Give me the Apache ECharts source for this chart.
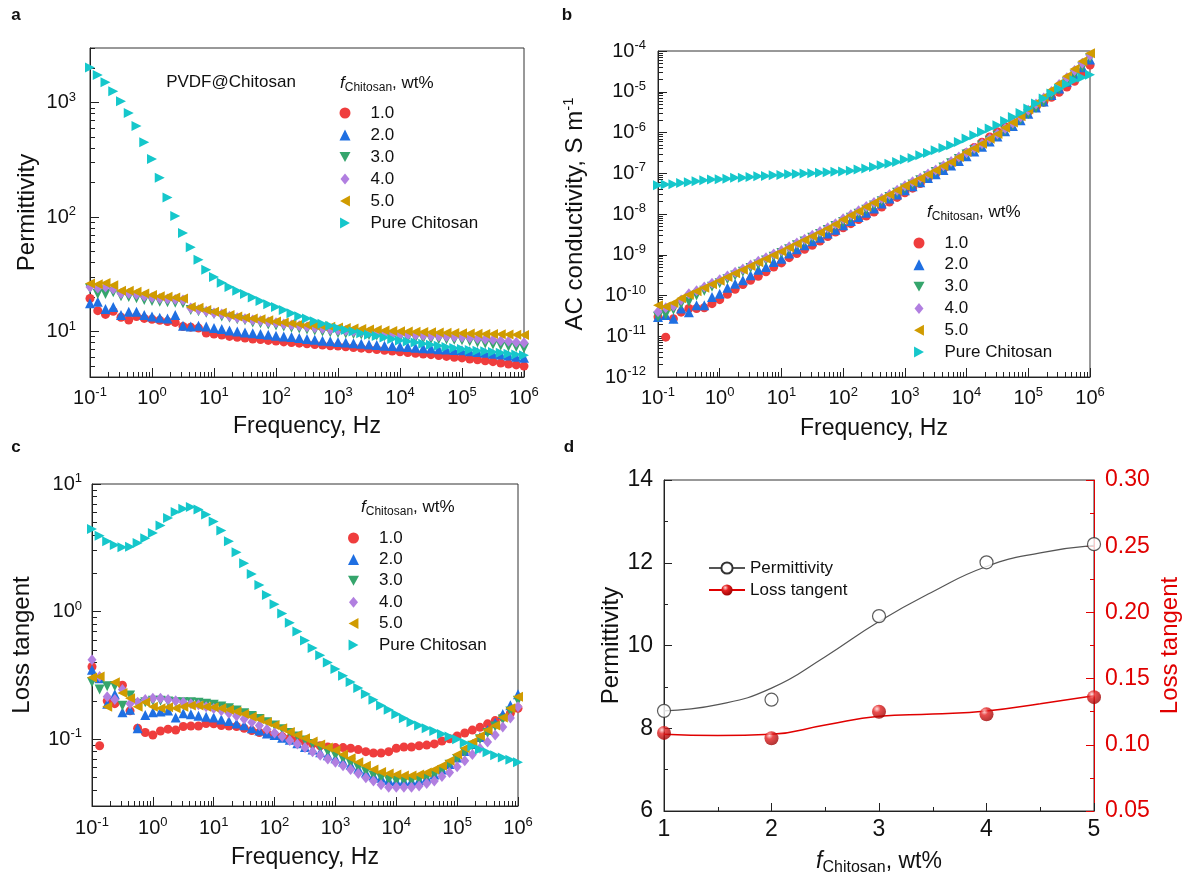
<!DOCTYPE html>
<html><head><meta charset="utf-8">
<script src="https://cdn.jsdelivr.net/npm/echarts@6.0.0/dist/echarts.min.js"></script>
<style>html,body{margin:0;padding:0;background:#fff}#c{width:1188px;height:881px}</style>
</head><body><div id="c"></div>
<script>
// ---------- DATA ----------
const freq = [0.1,0.1334,0.1778,0.2371,0.3162,0.4217,0.5623,0.7499,
  1,1.334,1.778,2.371,3.162,4.217,5.623,7.499,
  10,13.34,17.78,23.71,31.62,42.17,56.23,74.99,
  100,133.4,177.8,237.1,316.2,421.7,562.3,749.9,
  1000,1334,1778,2371,3162,4217,5623,7499,
  1e4,13340,17780,23710,31620,42170,56230,74990,
  1e5,133400,177800,237100,316200,421700,562300,749900,1e6];

const seriesNames = ['1.0','2.0','3.0','4.0','5.0','Pure Chitosan'];

// panel a: permittivity
const perm_1 = [19.4,15.2,14.1,15.0,13.3,12.6,13.5,13.0,12.8,12.5,12.2,12.0,11.05,10.9,10.7,9.7,9.5,9.3,9.05,8.9,8.75,8.6,8.5,8.35,8.25,8.1,8.0,7.9,7.8,7.7,7.6,7.5,7.45,7.35,7.25,7.15,7.05,6.95,6.85,6.75,6.65,6.55,6.45,6.35,6.27,6.15,6.05,5.95,5.87,5.75,5.65,5.55,5.45,5.3,5.2,5.1,4.98];
const perm_2 = [17.6,18.2,15.7,16.4,13.9,14.9,14.9,13.9,13.5,13.2,13.0,13.9,11.2,11.05,11.2,11.05,10.7,10.5,10.2,10.0,9.8,9.67,9.48,9.35,9.17,9.05,8.93,8.75,8.6,8.45,8.3,8.2,8.1,8.0,7.9,7.8,7.7,7.6,7.5,7.45,7.4,7.3,7.2,7.15,7.1,7.0,6.95,6.9,6.85,6.7,6.6,6.5,6.4,6.3,6.15,6.0,5.9];
const perm_3 = [23.7,21.2,21.2,22.0,20.3,20.0,19.5,18.8,18.5,18.2,18.0,17.8,17.6,15.4,15.0,14.6,14.2,13.5,13.2,12.8,12.5,12.0,11.8,11.5,11.3,11.05,10.8,10.6,10.4,10.2,10.0,9.85,9.7,9.6,9.5,9.4,9.3,9.2,9.1,9.0,8.9,8.8,8.75,8.7,8.6,8.55,8.5,8.45,8.4,8.2,8.0,7.85,7.7,7.55,7.4,7.3,7.15];
const perm_4 = [24.5,24.0,24.5,23.5,21.5,21.5,21.0,20.3,19.8,19.4,19.2,19.0,18.8,16.0,15.5,15.0,14.5,14.2,13.6,13.2,12.9,12.6,12.4,12.1,11.9,11.6,11.4,11.2,11.0,10.8,10.6,10.4,10.3,10.2,10.05,9.95,9.85,9.7,9.6,9.5,9.4,9.35,9.3,9.2,9.15,9.1,9.05,9.0,8.95,8.8,8.7,8.55,8.45,8.3,8.2,8.05,7.95];
const perm_5 = [26.2,25.9,26.5,25.4,22.7,22.7,22.2,21.5,20.8,20.3,20.1,19.8,19.4,16.4,16.1,15.4,14.9,14.6,13.9,13.5,13.2,13.0,12.8,12.5,12.2,12.0,11.8,11.6,11.4,11.25,11.1,11.0,10.85,10.7,10.6,10.5,10.4,10.3,10.2,10.1,10.05,10.0,9.95,9.9,9.85,9.8,9.75,9.7,9.67,9.6,9.55,9.5,9.48,9.45,9.4,9.35,9.3];
const perm_c = [2030,1746,1507,1259,1026,813,624,451,321,220,148,102,72.5,54.5,42.3,34.6,29.9,26.7,24.5,22.7,21.2,19.8,18.5,17.3,16.4,15.4,14.4,13.6,13.0,12.3,11.7,11.2,10.7,10.3,10.0,9.67,9.35,9.15,8.87,8.6,8.35,8.18,8.0,7.8,7.65,7.5,7.3,7.16,7.03,6.9,6.8,6.7,6.6,6.5,6.4,6.3,6.2];

// panel b: AC conductivity (S/m)
const cond_1 = [3.0e-11,9.5e-12,2.7e-11,3.9e-11,4.8e-11,4.8e-11,5.0e-11,6.3e-11,7.9e-11,1.07e-10,1.42e-10,1.85e-10,2.36e-10,2.95e-10,3.8e-10,5.0e-10,6.3e-10,8.5e-10,1.07e-9,1.36e-9,1.7e-9,2.17e-9,2.8e-9,3.6e-9,4.6e-9,5.8e-9,7.3e-9,8.9e-9,1.12e-8,1.48e-8,1.97e-8,2.55e-8,3.3e-8,4.3e-8,5.6e-8,7.4e-8,9.7e-8,1.28e-7,1.7e-7,2.35e-7,3.2e-7,4.3e-7,5.8e-7,7.8e-7,1.04e-6,1.38e-6,1.8e-6,2.4e-6,3.2e-6,4.2e-6,5.5e-6,7.3e-6,9.7e-6,1.3e-5,1.8e-5,2.8e-5,4.5e-5];
const cond_2 = [2.95e-11,3.3e-11,2.7e-11,4.8e-11,3.9e-11,5.75e-11,5.75e-11,9.2e-11,1.11e-10,1.56e-10,1.95e-10,2.36e-10,3.13e-10,4.3e-10,5.0e-10,6.6e-10,8.0e-10,1.07e-9,1.36e-9,1.7e-9,2.14e-9,2.63e-9,3.3e-9,4.1e-9,5.3e-9,6.7e-9,8.4e-9,1.08e-8,1.36e-8,1.8e-8,2.4e-8,3.0e-8,3.8e-8,4.8e-8,6.0e-8,7.6e-8,9.5e-8,1.2e-7,1.55e-7,2.0e-7,2.6e-7,3.4e-7,4.5e-7,6.0e-7,8.0e-7,1.08e-6,1.45e-6,2.0e-6,2.9e-6,4.1e-6,5.8e-6,8.3e-6,1.2e-5,1.75e-5,2.6e-5,4.0e-5,6.2e-5];
const cond_3 = [3.0e-11,3.4e-11,4.5e-11,6.2e-11,7.0e-11,1.0e-10,1.3e-10,1.65e-10,2.0e-10,2.5e-10,3.1e-10,3.8e-10,4.7e-10,5.8e-10,7.2e-10,8.9e-10,1.1e-9,1.37e-9,1.7e-9,2.1e-9,2.6e-9,3.25e-9,4.05e-9,5.1e-9,6.4e-9,8.1e-9,1.02e-8,1.28e-8,1.62e-8,2.05e-8,2.6e-8,3.3e-8,4.2e-8,5.3e-8,6.7e-8,8.5e-8,1.08e-7,1.38e-7,1.76e-7,2.25e-7,2.9e-7,3.7e-7,4.8e-7,6.3e-7,8.3e-7,1.1e-6,1.5e-6,2.05e-6,2.85e-6,4.0e-6,5.6e-6,8.0e-6,1.15e-5,1.7e-5,2.6e-5,4.0e-5,6.5e-5];
const cond_4 = [4.0e-11,5.0e-11,5.5e-11,7.8e-11,1.1e-10,1.3e-10,1.62e-10,2.0e-10,2.45e-10,3.0e-10,3.7e-10,4.5e-10,5.6e-10,6.9e-10,8.5e-10,1.04e-9,1.28e-9,1.58e-9,1.95e-9,2.4e-9,3.0e-9,3.7e-9,4.6e-9,5.8e-9,7.6e-9,9.6e-9,1.2e-8,1.52e-8,1.92e-8,2.4e-8,3.0e-8,3.8e-8,4.9e-8,6.2e-8,7.7e-8,9.6e-8,1.2e-7,1.52e-7,1.93e-7,2.5e-7,3.2e-7,4.1e-7,5.3e-7,7.0e-7,9.2e-7,1.25e-6,1.7e-6,2.4e-6,3.5e-6,5.0e-6,7.0e-6,1.02e-5,1.5e-5,2.2e-5,3.3e-5,5.0e-5,7.8e-5];
const cond_5 = [5.8e-11,5.4e-11,6.5e-11,8.6e-11,1.05e-10,1.27e-10,1.55e-10,1.9e-10,2.3e-10,2.85e-10,3.5e-10,4.3e-10,5.3e-10,6.5e-10,8.0e-10,9.8e-10,1.2e-9,1.5e-9,1.85e-9,2.3e-9,2.85e-9,3.5e-9,4.4e-9,5.6e-9,7.3e-9,9.3e-9,1.17e-8,1.5e-8,1.9e-8,2.4e-8,3.0e-8,3.8e-8,4.9e-8,6.1e-8,7.5e-8,9.4e-8,1.18e-7,1.5e-7,1.9e-7,2.5e-7,3.3e-7,4.1e-7,5.3e-7,7.0e-7,9.2e-7,1.3e-6,1.75e-6,2.5e-6,3.7e-6,5.3e-6,7.4e-6,1.1e-5,1.6e-5,2.4e-5,3.6e-5,5.6e-5,8.8e-5];
const cond_c = [5.06e-8,5.26e-8,5.36e-8,5.77e-8,6.0e-8,6.34e-8,6.71e-8,6.98e-8,7.1e-8,7.38e-8,7.8e-8,7.8e-8,8.1e-8,8.4e-8,8.57e-8,8.9e-8,9.0e-8,9.4e-8,9.6e-8,9.8e-8,1.0e-7,1.03e-7,1.06e-7,1.09e-7,1.11e-7,1.15e-7,1.23e-7,1.3e-7,1.42e-7,1.57e-7,1.72e-7,1.89e-7,2.16e-7,2.37e-7,2.76e-7,3.14e-7,3.66e-7,4.17e-7,4.85e-7,5.85e-7,7.08e-7,8.54e-7,1.03e-6,1.25e-6,1.5e-6,1.91e-6,2.4e-6,3.01e-6,3.86e-6,5.12e-6,6.79e-6,9.0e-6,1.19e-5,1.52e-5,1.91e-5,2.25e-5,2.6e-5];

// panel c: loss tangent
const tan_1 = [0.37,0.089,0.20,0.19,0.265,0.167,0.122,0.113,0.108,0.116,0.120,0.118,0.126,0.127,0.127,0.133,0.132,0.128,0.127,0.126,0.122,0.117,0.113,0.111,0.108,0.105,0.102,0.099,0.095,0.092,0.089,0.087,0.086,0.086,0.085,0.083,0.080,0.078,0.078,0.080,0.085,0.087,0.087,0.089,0.090,0.092,0.097,0.101,0.106,0.112,0.118,0.124,0.132,0.140,0.149,0.160,0.175];
const tan_2 = [0.35,0.30,0.19,0.225,0.163,0.170,0.122,0.155,0.163,0.165,0.168,0.148,0.160,0.157,0.153,0.150,0.148,0.143,0.139,0.133,0.129,0.122,0.117,0.111,0.108,0.103,0.099,0.093,0.087,0.083,0.079,0.075,0.071,0.067,0.063,0.059,0.055,0.052,0.050,0.048,0.047,0.047,0.047,0.048,0.050,0.053,0.058,0.064,0.072,0.081,0.092,0.104,0.118,0.135,0.158,0.185,0.225];
const tan_3 = [0.28,0.245,0.26,0.26,0.183,0.22,0.19,0.195,0.20,0.20,0.198,0.195,0.195,0.195,0.193,0.19,0.186,0.181,0.175,0.168,0.160,0.152,0.144,0.136,0.128,0.120,0.112,0.105,0.098,0.092,0.086,0.080,0.075,0.070,0.065,0.060,0.056,0.052,0.050,0.048,0.047,0.047,0.047,0.048,0.050,0.053,0.057,0.063,0.070,0.079,0.089,0.100,0.112,0.126,0.143,0.165,0.20];
const tan_4 = [0.42,0.31,0.215,0.205,0.245,0.19,0.195,0.205,0.21,0.21,0.205,0.20,0.195,0.19,0.186,0.18,0.174,0.167,0.160,0.152,0.144,0.136,0.128,0.120,0.112,0.105,0.098,0.092,0.086,0.080,0.075,0.070,0.066,0.062,0.058,0.054,0.050,0.047,0.044,0.042,0.042,0.042,0.042,0.043,0.045,0.047,0.051,0.055,0.061,0.068,0.076,0.085,0.095,0.108,0.125,0.147,0.18];
const tan_5 = [0.305,0.31,0.18,0.28,0.23,0.21,0.18,0.195,0.18,0.175,0.178,0.175,0.180,0.184,0.184,0.180,0.178,0.175,0.170,0.165,0.158,0.150,0.1435,0.136,0.129,0.122,0.114,0.108,0.102,0.096,0.091,0.086,0.082,0.076,0.071,0.066,0.062,0.058,0.0555,0.054,0.053,0.052,0.052,0.053,0.055,0.058,0.062,0.068,0.076,0.085,0.095,0.106,0.118,0.128,0.148,0.175,0.215];
const tan_c = [4.45,3.94,3.56,3.33,3.19,3.23,3.45,3.76,4.14,4.73,5.41,6.03,6.40,6.6,6.31,5.77,5.08,4.32,3.56,2.92,2.39,1.97,1.62,1.35,1.14,0.965,0.82,0.70,0.594,0.52,0.455,0.40,0.356,0.315,0.281,0.252,0.226,0.204,0.184,0.170,0.157,0.146,0.136,0.128,0.122,0.116,0.110,0.105,0.100,0.094,0.088,0.083,0.079,0.075,0.072,0.069,0.066];

// panel d
const fChitosan = [1,2,3,4,5];
const permPts = [8.42,8.69,10.71,12.01,12.45];
const lossPts = [0.109,0.105,0.125,0.123,0.136];
const fitX = [1,1.5,2,2.5,3,3.5,4,4.5,5];
const permFit = [8.42,8.57,8.97,9.73,10.58,11.30,11.91,12.24,12.42];
const lossFit = [0.108,0.107,0.108,0.115,0.1215,0.1232,0.1255,0.131,0.137];

// tick values
const freqTicks = [0.1,1,10,100,1000,1e4,1e5,1e6];
const permTicks = [10,100,1000];
const condTicks = [1e-12,1e-11,1e-10,1e-9,1e-8,1e-7,1e-6,1e-5,1e-4];
const tanTicks = [0.1,1,10];

// ---------- STYLE ----------
const FONT = '"Liberation Sans", Arial, Helvetica, sans-serif';
const colors = ['#ef3d3d','#1f6fe2','#35a56c','#b17fe0','#d09b00','#15c7cb'];
const symbols = [
  {symbol:'circle', rot:0, size:9, icon:'circle'},
  {symbol:'triangle', rot:0, size:10, icon:'triangle'},
  {symbol:'triangle', rot:180, size:10, icon:'path://M0,0L10,0L5,9Z'},
  {symbol:'diamond', rot:0, size:[9,11], icon:'path://M4.5,0L9,5.5L4.5,11L0,5.5Z'},
  {symbol:'triangle', rot:90, size:10, icon:'path://M9,0L9,10L0,5Z'},
  {symbol:'triangle', rot:-90, size:10, icon:'path://M0,0L9,5L0,10Z'}
];

function minorLog(min, max){
  const out=[];
  for(let e=-13;e<7;e++){ for(let m=2;m<=9;m++){ const v=m*Math.pow(10,e); if(v>=min*0.9999 && v<=max*1.0001) out.push(v);} }
  return out;
}
const richPow = {
  b:{fontSize:20, fontFamily:FONT, color:'#111', lineHeight:24, verticalAlign:'middle'},
  s:{fontSize:13, fontFamily:FONT, color:'#111', lineHeight:11, verticalAlign:'top'}
};
function powLabel(v){ return '{b|10}{s|' + Math.round(Math.log10(v)) + '}'; }

function logAxes(kind, grid, min, max, major, margin, name, nameGap, nameStyle){
  const pos = kind==='x' ? 'bottom' : 'left';
  return [{
    type:'log', logBase:10, gridIndex:grid, min:min, max:max, position:pos,
    axisLine:{show:true, onZero:false, lineStyle:{color:'#222', width:1}},
    axisTick:{show:true, inside:true, length:9, customValues:major, lineStyle:{color:'#222', width:1}},
    axisLabel:{show:true, customValues:major, margin:margin, formatter:powLabel, rich:richPow},
    splitLine:{show:false}, minorTick:{show:false},
    name:name, nameLocation:'middle', nameGap:nameGap, nameTextStyle:nameStyle
  },{
    type:'log', logBase:10, gridIndex:grid, min:min, max:max, position:pos,
    axisLine:{show:false, onZero:false},
    axisTick:{show:true, inside:true, length:5, customValues:minorLog(min,max), lineStyle:{color:'#222', width:1}},
    axisLabel:{show:false}, splitLine:{show:false}
  }];
}
const xNameStyle = {fontSize:23, fontFamily:FONT, color:'#111'};
const yNameStyle = {fontSize:24, fontFamily:FONT, color:'#111'};

const xA = logAxes('x',0,0.1,1e6,freqTicks,9,'Frequency, Hz',38,xNameStyle);
const yA = logAxes('y',0,4,3000,permTicks,14,'Permittivity',51,yNameStyle);
const xB = logAxes('x',1,0.1,1e6,freqTicks,9,'Frequency, Hz',40,xNameStyle);
const yB = logAxes('y',1,1e-12,1e-4,condTicks,12,'{n|AC conductivity, S m}{s|-1}',69,
  {fontSize:24, fontFamily:FONT, color:'#111', rich:{
    n:{fontSize:24, fontFamily:FONT, color:'#111', lineHeight:28, verticalAlign:'middle'},
    s:{fontSize:15, fontFamily:FONT, color:'#111', lineHeight:13, verticalAlign:'top'}}});
const xC = logAxes('x',2,0.1,1e6,freqTicks,10,'Frequency, Hz',40,xNameStyle);
const yC = logAxes('y',2,0.03,10,tanTicks,10,'Loss tangent',58,yNameStyle);

const RED = '#e00000';
const xD = {
  type:'value', gridIndex:3, min:1, max:5, interval:1, position:'bottom',
  axisLine:{show:true, onZero:false, lineStyle:{color:'#222'}},
  axisTick:{show:true, inside:true, length:8, lineStyle:{color:'#222'}},
  minorTick:{show:true, splitNumber:2, length:4, lineStyle:{color:'#222'}},
  axisLabel:{fontSize:23, fontFamily:FONT, color:'#111', margin:7},
  splitLine:{show:false},
  name:'{i|f}{s|Chitosan}{n|, wt%}', nameLocation:'middle', nameGap:37,
  nameTextStyle:{fontSize:23, fontFamily:FONT, color:'#111', rich:{
    i:{fontSize:23, fontFamily:FONT, fontStyle:'italic', color:'#111', lineHeight:28, verticalAlign:'middle'},
    s:{fontSize:16, fontFamily:FONT, color:'#111', lineHeight:16, verticalAlign:'bottom'},
    n:{fontSize:23, fontFamily:FONT, color:'#111', lineHeight:28, verticalAlign:'middle'}}}
};
const yDL = {
  type:'value', gridIndex:3, min:6, max:14, interval:2, position:'left',
  axisLine:{show:true, onZero:false, lineStyle:{color:'#222'}},
  axisTick:{show:true, inside:true, length:8, lineStyle:{color:'#222'}},
  minorTick:{show:true, splitNumber:2, length:4, lineStyle:{color:'#222'}},
  axisLabel:{fontSize:23, fontFamily:FONT, color:'#111', margin:11},
  splitLine:{show:false},
  name:'Permittivity', nameLocation:'middle', nameGap:37, nameTextStyle:yNameStyle
};
const yDR = {
  type:'value', gridIndex:3, min:0.05, max:0.30, interval:0.05, position:'right',
  axisLine:{show:true, onZero:false, lineStyle:{color:RED}},
  axisTick:{show:true, inside:true, length:8, lineStyle:{color:RED}},
  minorTick:{show:true, splitNumber:2, length:4, lineStyle:{color:RED}},
  axisLabel:{fontSize:23, fontFamily:FONT, color:RED, margin:11, formatter:v=>v.toFixed(2)},
  splitLine:{show:false},
  name:'Loss tangent', nameLocation:'middle', nameGap:64, nameTextStyle:{fontSize:24, fontFamily:FONT, color:RED}
};

function scatterSet(xi, yi, arrays){
  return arrays.map((ys, i) => ({
    type:'scatter', name:seriesNames[i], xAxisIndex:xi, yAxisIndex:yi,
    data: freq.map((f, k) => [f, ys[k]]),
    symbol:symbols[i].symbol, symbolRotate:symbols[i].rot, symbolSize:symbols[i].size,
    itemStyle:{color:colors[i], opacity:1},
    emphasis:{disabled:true}, silent:true
  }));
}

function legendAt(left, top, gap){
  return {data:seriesNames.map((n,i)=>({name:n, icon:symbols[i].icon, itemStyle:{color:colors[i]}})),
    orient:'vertical', left:left, top:top, padding:0, itemGap:gap,
    itemWidth:11, itemHeight:11, selectedMode:false, symbolRotate:0,
    textStyle:{fontSize:17, fontFamily:FONT, color:'#111', lineHeight:18, padding:[0,0,0,15]}};
}

const sphere = {type:'radial', x:0.35, y:0.3, r:0.75, colorStops:[
  {offset:0, color:'#ffd6d6'},{offset:0.35, color:'#e42020'},{offset:1, color:'#9a0000'}]};

const titleRich = {
  i:{fontSize:17, fontFamily:FONT, fontStyle:'italic', fill:'#111', color:'#111', lineHeight:22, verticalAlign:'middle'},
  s:{fontSize:12, fontFamily:FONT, fill:'#111', color:'#111', lineHeight:12, verticalAlign:'bottom'},
  n:{fontSize:17, fontFamily:FONT, fill:'#111', color:'#111', lineHeight:22, verticalAlign:'middle'}
};
function txt(x, y, text, extra){
  return {type:'text', x:x, y:y, silent:true, style:Object.assign({text:text, fontSize:17, fontFamily:FONT, fill:'#111', align:'center', verticalAlign:'middle'}, extra||{})};
}

const option = {
  animation:false,
  backgroundColor:'#fff',
  textStyle:{fontFamily:FONT},
  grid:[
    {left:90, top:48, width:434, height:329, show:true, borderColor:'#333', borderWidth:1, backgroundColor:'transparent'},
    {left:658, top:51, width:432, height:326, show:true, borderColor:'#333', borderWidth:1, backgroundColor:'transparent'},
    {left:92, top:484, width:426, height:322, show:true, borderColor:'#333', borderWidth:1, backgroundColor:'transparent'},
    {left:664, top:480, width:430, height:331, show:true, borderColor:'#333', borderWidth:1, backgroundColor:'transparent'}
  ],
  xAxis:[xA[0], xA[1], xB[0], xB[1], xC[0], xC[1], xD],
  yAxis:[yA[0], yA[1], yB[0], yB[1], yC[0], yC[1], yDL, yDR],
  legend:[
    legendAt(339.5, 104, 4),
    legendAt(913.5, 234, 3.8),
    legendAt(348, 529, 3.4),
    {data:['Permittivity','Loss tangent'], orient:'vertical', left:708, top:559, padding:0, itemGap:4,
     itemWidth:36, itemHeight:14, selectedMode:false,
     textStyle:{fontSize:17, fontFamily:FONT, color:'#111', lineHeight:18}}
  ],
  graphic:[
    txt(16, 15, 'a', {fontWeight:'bold'}),
    txt(567, 15, 'b', {fontWeight:'bold'}),
    txt(16, 447, 'c', {fontWeight:'bold'}),
    txt(569, 447, 'd', {fontWeight:'bold'}),
    txt(231, 82, 'PVDF@Chitosan'),
    txt(340, 83, '{i|f}{s|Chitosan}{n|, wt%}', {align:'left', rich:titleRich}),
    txt(927, 212, '{i|f}{s|Chitosan}{n|, wt%}', {align:'left', rich:titleRich}),
    txt(361, 507, '{i|f}{s|Chitosan}{n|, wt%}', {align:'left', rich:titleRich})
  ],
  series: [].concat(
    scatterSet(0, 0, [perm_1, perm_2, perm_3, perm_4, perm_5, perm_c]),
    scatterSet(2, 2, [cond_1, cond_2, cond_3, cond_4, cond_5, cond_c]),
    scatterSet(4, 4, [tan_1, tan_2, tan_3, tan_4, tan_5, tan_c]),
    [
      {type:'line', name:'Permittivity', xAxisIndex:6, yAxisIndex:6, smooth:0.5,
       data: fitX.map((x,i)=>[x, permFit[i]]), symbol:'emptyCircle', showSymbol:false, symbolSize:13,
       itemStyle:{color:'#333'}, lineStyle:{color:'#555', width:1.2}, silent:true},
      {type:'line', name:'Loss tangent', xAxisIndex:6, yAxisIndex:7, smooth:0.5,
       data: fitX.map((x,i)=>[x, lossFit[i]]), symbol:'circle', showSymbol:false, symbolSize:13,
       itemStyle:{color:sphere}, lineStyle:{color:RED, width:1.5}, silent:true},
      {type:'scatter', name:'Permittivity (measured)', xAxisIndex:6, yAxisIndex:6,
       data: fChitosan.map((x,i)=>[x, permPts[i]]), symbol:'circle', symbolSize:13,
       itemStyle:{color:'#fff', borderColor:'#333', borderWidth:1.2}, silent:true, z:3},
      {type:'scatter', name:'Loss tangent (measured)', xAxisIndex:6, yAxisIndex:7,
       data: fChitosan.map((x,i)=>[x, lossPts[i]]), symbol:'circle', symbolSize:14,
       itemStyle:{color:sphere}, silent:true, z:3}
    ]
  )
};

const chart = echarts.init(document.getElementById('c'), null, {renderer:'canvas'});
chart.setOption(option);
</script></body></html>
